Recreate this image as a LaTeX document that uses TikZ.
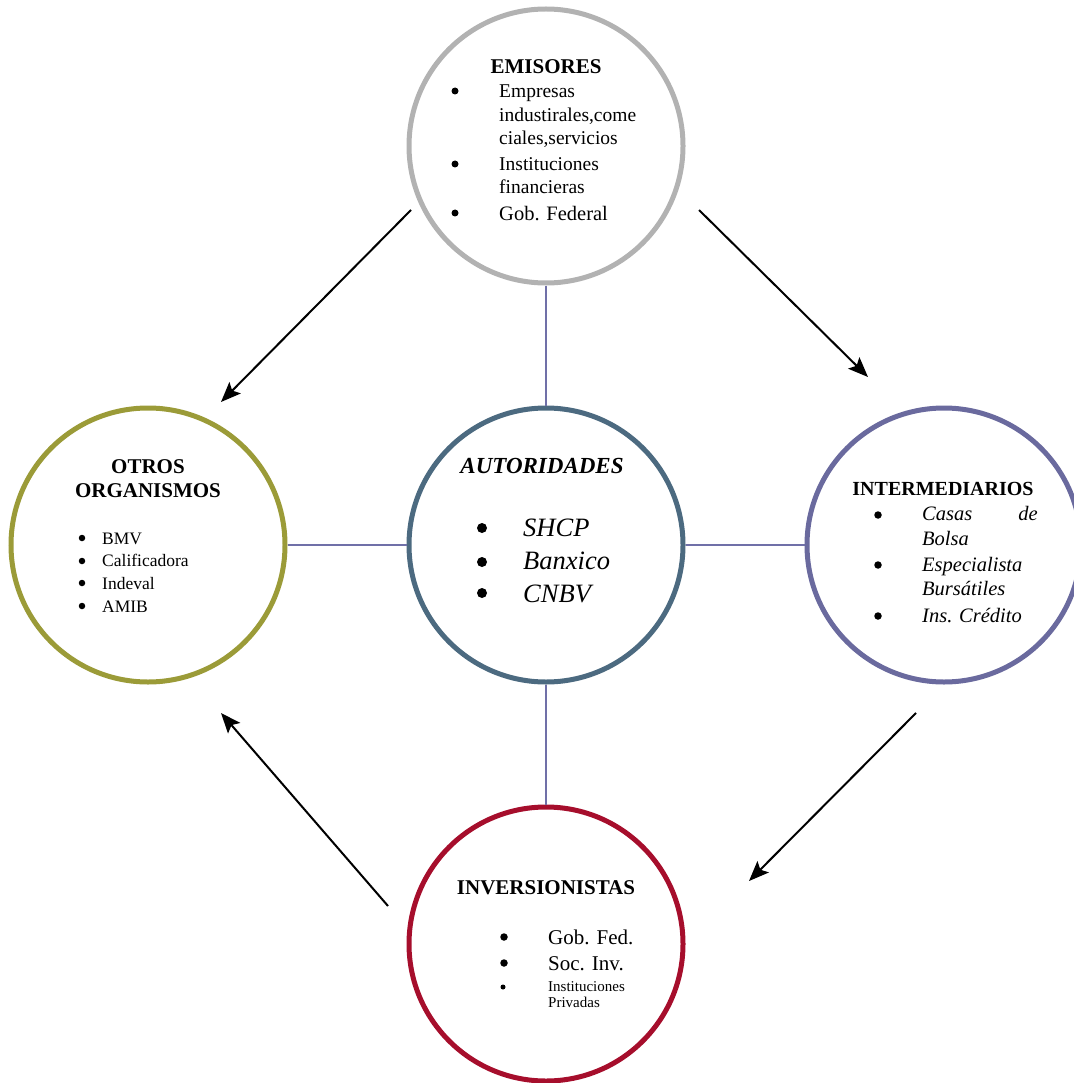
\documentclass[tikz,border=0pt]{standalone}
\usepackage{fontspec}
\setmainfont{Liberation Serif}
\usetikzlibrary{arrows.meta}

\definecolor{emisc}{RGB}{178,178,178}
\definecolor{otrosc}{RGB}{155,155,56}
\definecolor{autc}{RGB}{76,106,128}
\definecolor{intc}{RGB}{106,106,158}
\definecolor{invc}{RGB}{166,14,44}
\definecolor{linkc}{RGB}{112,112,168}

\newcommand{\fs}[1]{\fontsize{#1}{#1}\selectfont}

\tikzset{
  ring/.style={circle, draw, line width=5pt, minimum size=274pt, inner sep=0pt},
  link/.style={draw=linkc, line width=1.5pt},
  flow/.style={-{Stealth[length=20pt,width=16pt,inset=4pt]}, line width=2pt, black},
  lbl/.style={anchor=base west, inner sep=0pt},
  lblr/.style={anchor=base east, inner sep=0pt},
  ttl/.style={anchor=base, inner sep=0pt, font=\bfseries\fs{21}},
  blt/.style={circle, fill=black, inner sep=0pt, minimum size=#1},
  blt/.default=7pt,
}

\begin{document}
\begin{tikzpicture}[x=1pt,y=-1pt]
\useasboundingbox (0,0) rectangle (1073,1083);

% the five circles
\node[ring, draw=emisc]  (emi) at (546,146) {};
\node[ring, draw=otrosc] (otr) at (148,545) {};
\node[ring, draw=autc]   (aut) at (546,545) {};
\node[ring, draw=intc]   (int) at (944,545) {};
\node[ring, draw=invc]   (inv) at (546,944) {};

% thin links to the centre
\draw[link] (emi) -- (aut);
\draw[link] (aut) -- (inv);
\draw[link] (otr) -- (aut);
\draw[link] (aut) -- (int);

% flow arrows between the outer circles
\coordinate (f1s) at (411,210); \coordinate (f1e) at (221,402);
\coordinate (f2s) at (699,210); \coordinate (f2e) at (868,377);
\coordinate (f3s) at (916,713); \coordinate (f3e) at (749,881);
\coordinate (f4s) at (388,906); \coordinate (f4e) at (221,713);
\draw[flow] (f1s) -- (f1e);
\draw[flow] (f2s) -- (f2e);
\draw[flow] (f3s) -- (f3e);
\draw[flow] (f4s) -- (f4e);

% EMISORES
\node[ttl] (emiT) at (546,74) {EMISORES};
\node[blt] (emiB1) at (455,91) {};
\node[blt] (emiB2) at (455,164) {};
\node[blt] (emiB3) at (455,213) {};
\begin{scope}[every node/.append style={font=\fs{19.5}}]
\node[lbl] (emiL1) at (499,98) {Empresas};
\node[lbl] (emiL2) at (499,122) {industirales,come};
\node[lbl] (emiL3) at (499,145) {ciales,servicios};
\node[lbl] (emiL4) at (499,171) {Instituciones};
\node[lbl] (emiL5) at (499,194) {financieras};
\end{scope}
\node[lbl, font=\fs{20.5}] (emiL6) at (499,221) {Gob. Federal};

% OTROS ORGANISMOS
\node[ttl] (otrT1) at (148,473) {OTROS};
\node[ttl] (otrT2) at (148,497) {ORGANISMOS};
\node[blt=6.5pt] (otrB1) at (82,538) {};
\node[blt=6.5pt] (otrB2) at (82,561) {};
\node[blt=6.5pt] (otrB3) at (82,583) {};
\node[blt=6.5pt] (otrB4) at (82,606) {};
\begin{scope}[every node/.append style={font=\fs{17.5}}]
\node[lbl] (otrL1) at (102,544) {BMV};
\node[lbl] (otrL2) at (102,566) {Calificadora};
\node[lbl] (otrL3) at (102,589) {Indeval};
\node[lbl] (otrL4) at (102,612) {AMIB};
\end{scope}

% AUTORIDADES
\node[ttl, font=\bfseries\itshape\fs{23}] (autT) at (542,473) {AUTORIDADES};
\node[blt=10pt] (autB1) at (482,528) {};
\node[blt=10pt] (autB2) at (482,562) {};
\node[blt=10pt] (autB3) at (482,593) {};
\begin{scope}[every node/.append style={font=\itshape\fs{26.5}}]
\node[lbl] (autL1) at (523,536) {SHCP};
\node[lbl] (autL2) at (523,569) {Banxico};
\node[lbl] (autL3) at (523,602) {CNBV};
\end{scope}

% INTERMEDIARIOS
\node[ttl, font=\bfseries\fs{20}] (intT) at (943,495) {INTERMEDIARIOS};
\node[blt=7.5pt] (intB1) at (878,515) {};
\node[blt=7.5pt] (intB2) at (878,565) {};
\node[blt=7.5pt] (intB3) at (878,616) {};
\begin{scope}[every node/.append style={font=\itshape\fs{20.5}}]
\node[lbl] (intL1) at (922,520) {Casas};
\node[lblr] (intL1b) at (1038,520) {de};
\node[lbl] (intL2) at (922,545) {Bolsa};
\node[lbl] (intL3) at (922,571) {Especialista};
\node[lbl] (intL4) at (922,595) {Bursátiles};
\node[lbl] (intL5) at (922,622) {Ins. Crédito};
\end{scope}

% INVERSIONISTAS
\node[ttl] (invT) at (546,894) {INVERSIONISTAS};
\node[blt=7.5pt] (invB1) at (504,937) {};
\node[blt=7.5pt] (invB2) at (504,963) {};
\node[blt=5pt] (invB3) at (503,987) {};
\begin{scope}[every node/.append style={font=\fs{21}}]
\node[lbl] (invL1) at (548,944) {Gob. Fed.};
\node[lbl] (invL2) at (548,970) {Soc. Inv.};
\end{scope}
\begin{scope}[every node/.append style={font=\fs{15}}]
\node[lbl] (invL3) at (548,991) {Instituciones};
\node[lbl] (invL4) at (548,1007) {Privadas};
\end{scope}
\end{tikzpicture}
\end{document}
